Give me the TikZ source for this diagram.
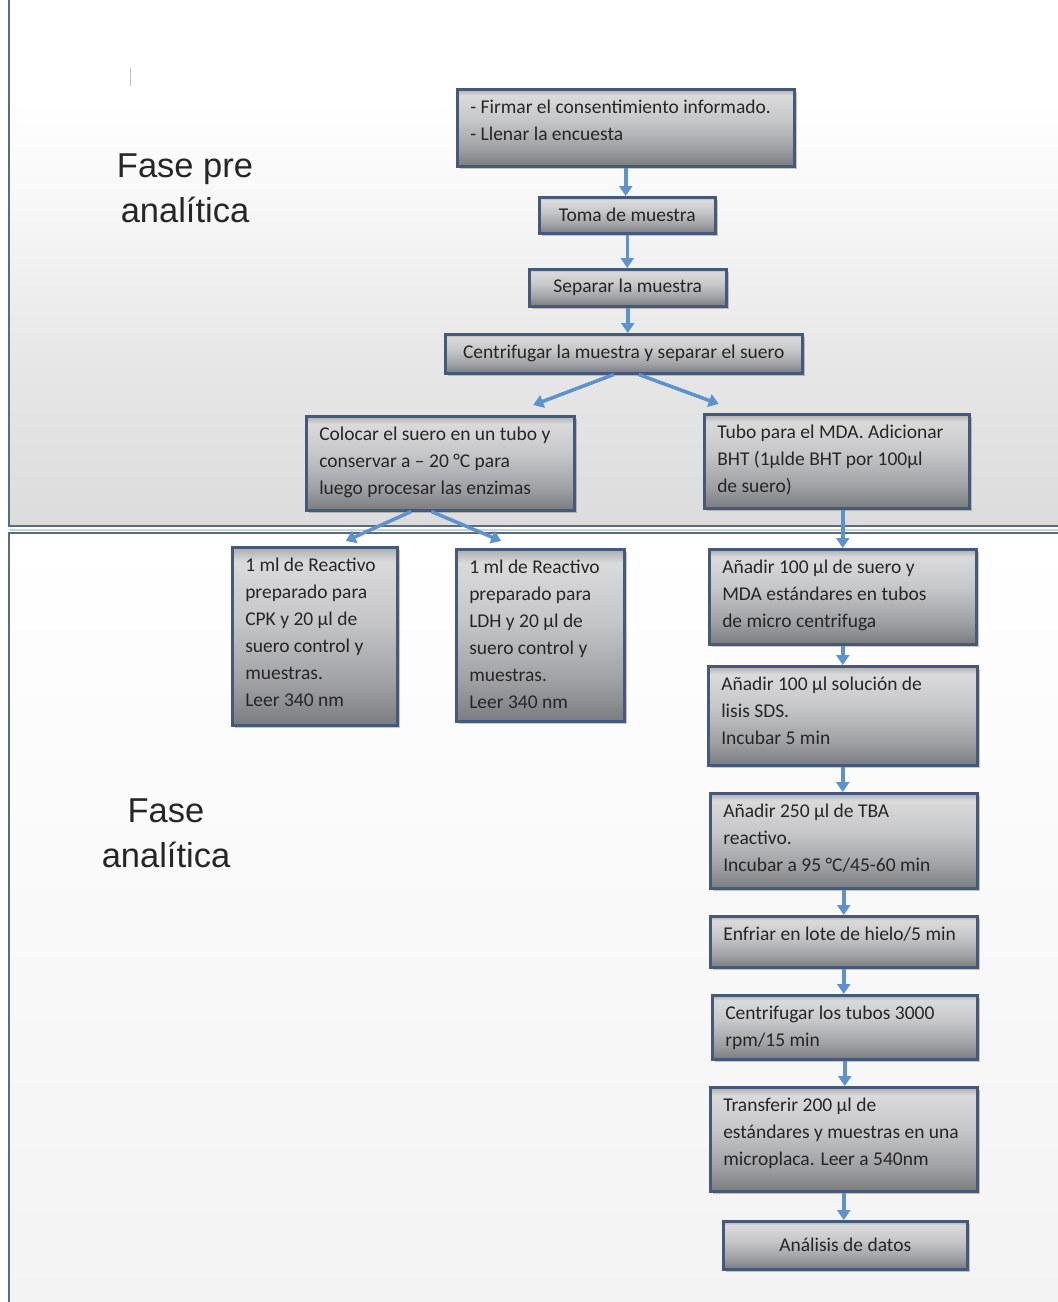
\documentclass[tikz,border=0pt]{standalone}
\usepackage{fontspec}
\newfontfamily\boxfont{Carlito}
\newfontfamily\labfont{Liberation Sans}
\usetikzlibrary{arrows.meta,shadows}
\definecolor{bxa}{HTML}{7A7C80}
\definecolor{bxb}{HTML}{9FA1A4}
\definecolor{bxc}{HTML}{C6C7C9}
\definecolor{bxd}{HTML}{DADADB}
\definecolor{bxe}{HTML}{ABACB0}
\definecolor{bxborder}{HTML}{45597A}
\definecolor{txt}{HTML}{262626}
\definecolor{arrcol}{HTML}{5C93CF}
\definecolor{framecol}{HTML}{5D6B7E}
\definecolor{fga}{HTML}{DCDCDC}
\definecolor{fgb}{HTML}{E8E8E8}
\definecolor{fgc}{HTML}{F7F7F7}
\definecolor{fbot}{HTML}{F3F3F3}
% only 25bp..75bp of a shading is mapped onto a path
\pgfdeclareverticalshading{boxgrad}{100bp}{color(0bp)=(bxa); color(25bp)=(bxa); color(37bp)=(bxb); color(55bp)=(bxc); color(71bp)=(bxd); color(75bp)=(bxe); color(100bp)=(bxe)}
\pgfdeclareverticalshading{topgrad}{100bp}{color(0bp)=(fga); color(25bp)=(fga); color(42bp)=(fgb); color(55bp)=(fgc); color(65bp)=(white); color(100bp)=(white)}
\pgfdeclareverticalshading{botgrad}{100bp}{color(0bp)=(fbot); color(25bp)=(fbot); color(75bp)=(white); color(100bp)=(white)}
\newcommand\bfnt{\boxfont\fontsize{19.5pt}{27pt}\selectfont}
\newcommand\bt[3]{\parbox[c][#1pt][t]{#2pt}{\raggedright\vspace*{5pt}\strut #3}}
\tikzset{
  box/.style={draw=bxborder, line width=2.5pt, shading=boxgrad, anchor=north west,
    inner sep=0pt, text=txt, font=\bfnt,
    drop shadow={shadow xshift=2.5pt, shadow yshift=-2.5pt, opacity=0.3, fill=black!70}},
  lab/.style={align=center, text=black!85, font=\labfont\fontsize{34.5pt}{45pt}\selectfont},
  arr/.style={draw=arrcol, line width=3.5pt, -{Triangle[length=10pt,width=13pt]}},
  frame/.style={draw=framecol, line width=2pt}
}
\begin{document}
\begin{tikzpicture}[x=1pt,y=-1pt]
\useasboundingbox (0,0) rectangle (1058,1302);
\fill[white] (0,0) rectangle (1058,1302);
% frames
\path[shading=topgrad] (9,-5) rectangle (1070,526);
\path[shading=botgrad] (9,533) rectangle (1070,1310);
\draw[frame] (9,-5) -- (9,526) -- (1070,526);
\draw[arrcol!40, line width=2pt] (9,529.5) -- (1070,529.5);
\draw[frame] (9,1310) -- (9,533) -- (1070,533);
\draw[black!25, line width=1pt] (130,68) -- (130,86);
% labels
\node[lab] (fpre) at (185,188) {Fase pre\\analítica};
\node[lab] (fan) at (166,833) {Fase\\analítica};
% boxes
\node[box, minimum width=337pt, minimum height=77pt] (b1) at (456,88)
  {\bt{77}{311}{- Firmar el consentimiento informado.\\- Llenar la encuesta}};
\node[box, minimum width=176pt, minimum height=36pt] (b2) at (538,196) {Toma de muestra};
\node[box, minimum width=197pt, minimum height=37pt] (b3) at (528,268) {Separar la muestra};
\node[box, minimum width=357pt, minimum height=39pt] (b4) at (444,333) {Centrifugar la muestra y separar el suero};
\node[box, minimum width=268pt, minimum height=94pt] (b5) at (305,415)
  {\bt{94}{242}{Colocar el suero en un tubo y\\conservar a – 20 °C para\\luego procesar las enzimas}};
\node[box, minimum width=265pt, minimum height=94pt] (b6) at (703,413)
  {\bt{94}{239}{Tubo para el MDA. Adicionar\\BHT (1µlde BHT por 100µl\\de suero)}};
\node[box, minimum width=165pt, minimum height=178pt] (b7) at (231,546)
  {\bt{178}{139}{1 ml de Reactivo\\preparado para\\CPK y 20 µl de\\suero control y\\muestras.\\Leer 340 nm}};
\node[box, minimum width=168pt, minimum height=172pt] (b8) at (455,548)
  {\bt{172}{142}{1 ml de Reactivo\\preparado para\\LDH y 20 µl de\\suero control y\\muestras.\\Leer 340 nm}};
\node[box, minimum width=267pt, minimum height=95pt] (b9) at (708,548)
  {\bt{95}{241}{Añadir 100 µl de suero y\\MDA estándares en tubos\\de micro centrifuga}};
\node[box, minimum width=269pt, minimum height=99pt] (b10) at (707,665)
  {\bt{99}{243}{Añadir 100 µl solución de\\lisis SDS.\\Incubar 5 min}};
\node[box, minimum width=267pt, minimum height=95pt] (b11) at (709,792)
  {\bt{95}{241}{Añadir 250 µl de TBA\\reactivo.\\Incubar a 95 °C/45-60 min}};
\node[box, minimum width=267pt, minimum height=51pt] (b12) at (709,915)
  {\bt{51}{241}{Enfriar en lote de hielo/5 min}};
\node[box, minimum width=265pt, minimum height=64pt] (b13) at (711,994)
  {\bt{64}{239}{Centrifugar los tubos 3000\\rpm/15 min}};
\node[box, minimum width=267pt, minimum height=104pt] (b14) at (709,1086)
  {\bt{104}{241}{Transferir 200 µl de\\estándares y muestras en una\\microplaca. Leer a 540nm}};
\node[box, minimum width=244pt, minimum height=48pt] (b15) at (722,1220) {Análisis de datos};
% arrows
\draw[arr] (b1.south) -- (b1.south |- b2.north);
\draw[arr] (b2.south) -- (b2.south |- b3.north);
\draw[arr] (b3.south) -- (b3.south |- b4.north);
\draw[arr] ([xshift=-10pt]b4.south) -- ([xshift=93pt,yshift=10pt]b5.north);
\draw[arr] ([xshift=15pt]b4.south) -- ([xshift=-118pt,yshift=9pt]b6.north);
\draw[arr] ([xshift=-29pt]b5.south) -- ([xshift=31pt,yshift=5pt]b7.north);
\draw[arr] ([xshift=-9pt]b5.south) -- ([xshift=-39pt,yshift=7pt]b8.north);
\draw[arr] (b6.south -| b9.north) -- (b9.north);
\draw[arr] (b9.south) -- (b9.south |- b10.north);
\draw[arr] (b10.south) -- (b10.south |- b11.north);
\draw[arr] (b11.south) -- (b11.south |- b12.north);
\draw[arr] (b12.south) -- (b12.south |- b13.north);
\draw[arr] (b13.south) -- (b13.south |- b14.north);
\draw[arr] (b14.south) -- (b14.south |- b15.north);
\end{tikzpicture}
\end{document}
